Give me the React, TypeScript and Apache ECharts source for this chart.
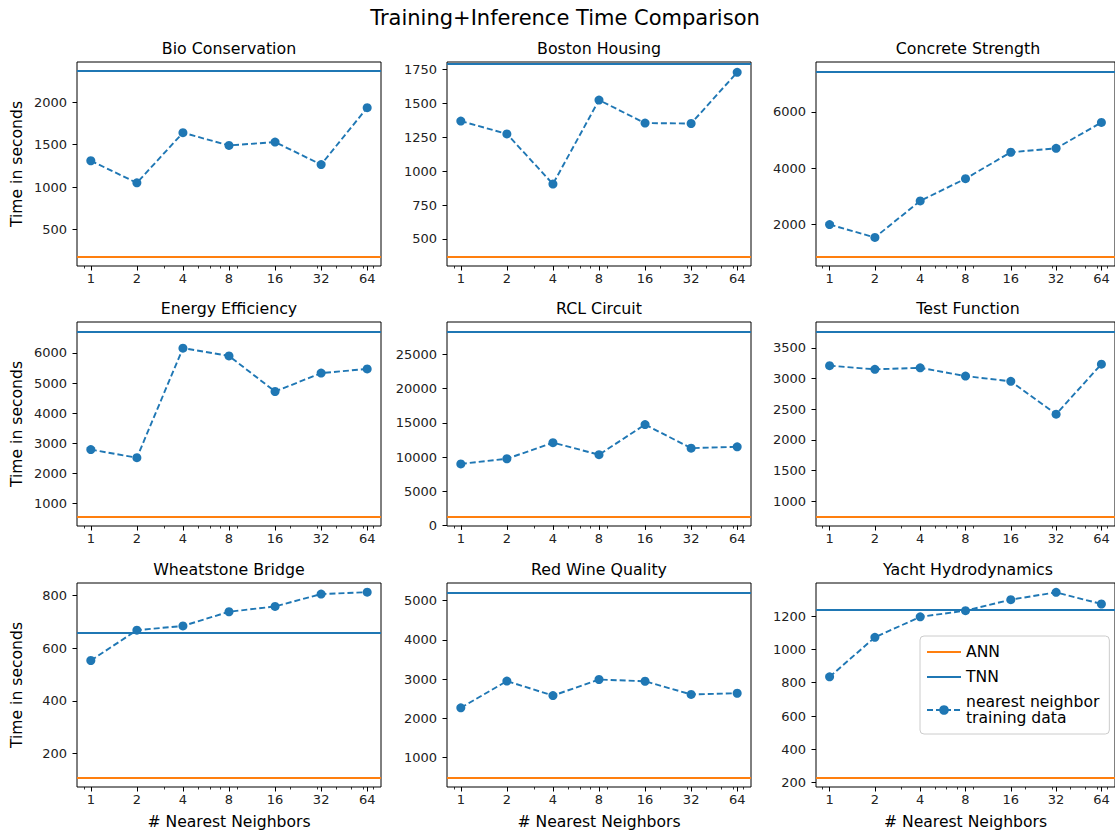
import React, { useEffect, useRef } from "react";
import * as echarts from "echarts";

// ---- data ----
const neighbors = [1, 2, 4, 8, 16, 32, 64];
const minorTickValues = [0.9, 3, 5, 6, 7, 9, 20, 30, 40, 50, 60, 70];

const suptitle = "Training+Inference Time Comparison";
const datasetNames = [
  "Bio Conservation",
  "Boston Housing",
  "Concrete Strength",
  "Energy Efficiency",
  "RCL Circuit",
  "Test Function",
  "Wheatstone Bridge",
  "Red Wine Quality",
  "Yacht Hydrodynamics",
];

const bioConservation = [1310, 1050, 1640, 1490, 1530, 1265, 1935];
const bostonHousing = [1370, 1275, 905, 1525, 1355, 1352, 1730];
const concreteStrength = [1990, 1530, 2830, 3620, 4560, 4700, 5620];
const energyEfficiency = [2790, 2520, 6160, 5900, 4720, 5330, 5470];
const rclCircuit = [9000, 9750, 12100, 10350, 14750, 11300, 11500];
const testFunction = [3210, 3150, 3175, 3040, 2955, 2420, 3235];
const wheatstoneBridge = [553, 668, 684, 738, 758, 805, 812];
const redWineQuality = [2270, 2950, 2580, 2990, 2945, 2610, 2640];
const yachtHydrodynamics = [835, 1072, 1195, 1232, 1298, 1342, 1272];

const knnSeries = [
  bioConservation,
  bostonHousing,
  concreteStrength,
  energyEfficiency,
  rclCircuit,
  testFunction,
  wheatstoneBridge,
  redWineQuality,
  yachtHydrodynamics,
];

const annTimes = [180, 370, 845, 560, 1270, 750, 108, 490, 230];
const tnnTimes = [2365, 1795, 7440, 6720, 28400, 3770, 660, 5210, 1235];

const yMins = [72, 300, 515, 252, -87, 599, 73, 254, 174];
const yMaxs = [2472, 1806, 7770, 7028, 29757, 3921, 847, 5446, 1398];

const yTicks = [
  [500, 1000, 1500, 2000],
  [500, 750, 1000, 1250, 1500, 1750],
  [2000, 4000, 6000],
  [1000, 2000, 3000, 4000, 5000, 6000],
  [0, 5000, 10000, 15000, 20000, 25000],
  [1000, 1500, 2000, 2500, 3000, 3500],
  [200, 400, 600, 800],
  [1000, 2000, 3000, 4000, 5000],
  [200, 400, 600, 800, 1000, 1200],
];

const knnName = "nearest neighbor\ntraining data";
const annName = "ANN";
const tnnName = "TNN";

// ---- layout / style ----
const C0 = "#1f77b4";
const C1 = "#ff7f0e";
const FONT = "DejaVu Sans";
const colLefts = [77, 447, 816];
const rowTops = [62, 322, 583];
const gridW = 304;
const gridH = 204;

export default function App() {
  const ref = useRef<HTMLDivElement>(null);

  useEffect(() => {
    if (!ref.current) return;
    const chart = echarts.init(ref.current, null, { renderer: "svg" });

    const lo = Math.log2(neighbors[0]);
    const hi = Math.log2(neighbors[neighbors.length - 1]);
    const pad = (hi - lo) * 0.05;
    const xMin = Math.pow(2, lo - pad);
    const xMax = Math.pow(2, hi + pad);

    const grids: any[] = [];
    const xAxes: any[] = [];
    const yAxes: any[] = [];
    const series: any[] = [];
    const graphics: any[] = [
      {
        type: "text",
        x: 565,
        y: 18,
        style: {
          text: suptitle,
          fontSize: 21,
          fontFamily: FONT,
          fill: "#000",
          align: "center",
          verticalAlign: "middle",
        },
      },
    ];

    datasetNames.forEach((name, i) => {
      const row = Math.floor(i / 3);
      const col = i % 3;
      grids.push({
        left: colLefts[col],
        top: rowTops[row],
        width: gridW,
        height: gridH,
        show: true,
        borderColor: "#000",
        borderWidth: 1,
        backgroundColor: "transparent",
        containLabel: false,
      });
      graphics.push({
        type: "text",
        x: colLefts[col] + gridW / 2,
        y: rowTops[row] - 13.5,
        style: {
          text: name,
          fontSize: 15.8,
          fontFamily: FONT,
          fill: "#000",
          align: "center",
          verticalAlign: "middle",
        },
      });
      xAxes.push({
        gridIndex: i,
        type: "log",
        logBase: 2,
        position: "bottom",
        min: xMin,
        max: xMax,
        axisLine: { show: false },
        axisTick: {
          show: true,
          customValues: neighbors,
          length: 4.5,
          lineStyle: { color: "#000", width: 1 },
        },
        axisLabel: {
          customValues: neighbors,
          fontSize: 13,
          fontFamily: FONT,
          color: "#222",
          margin: 6,
          formatter: (v: number) => String(Math.round(v)),
        },
        splitLine: { show: false },
        minorTick: { show: false },
        name: row === 2 ? "# Nearest Neighbors" : "",
        nameLocation: "middle",
        nameGap: 27,
        nameTextStyle: { fontSize: 15.6, fontFamily: FONT, color: "#000" },
      });
      xAxes.push({
        gridIndex: i,
        type: "log",
        logBase: 2,
        position: "bottom",
        min: xMin,
        max: xMax,
        axisLine: { show: false },
        axisTick: {
          show: true,
          customValues: minorTickValues,
          length: 2.5,
          lineStyle: { color: "#000", width: 0.8 },
        },
        axisLabel: { show: false },
        splitLine: { show: false },
      });
      yAxes.push({
        gridIndex: i,
        type: "value",
        min: yMins[i],
        max: yMaxs[i],
        axisLine: { show: false },
        axisTick: {
          show: true,
          customValues: yTicks[i],
          length: 4.5,
          lineStyle: { color: "#000", width: 1 },
        },
        axisLabel: {
          customValues: yTicks[i],
          fontSize: 13,
          fontFamily: FONT,
          color: "#222",
          margin: 10,
          formatter: (v: number) => String(v),
        },
        splitLine: { show: false },
        name: col === 0 ? "Time in seconds" : "",
        nameLocation: "middle",
        nameGap: 52,
        nameRotate: 90,
        nameTextStyle: { fontSize: 15.6, fontFamily: FONT, color: "#000" },
      });
      const xi = i * 2;
      series.push({
        name: annName,
        type: "line",
        xAxisIndex: xi,
        yAxisIndex: i,
        data: [],
        symbol: "none",
        itemStyle: { color: C1 },
        lineStyle: { color: C1, width: 2 },
        markLine: {
          silent: true,
          symbol: ["none", "none"],
          label: { show: false },
          lineStyle: { color: C1, width: 2, type: "solid" },
          data: [{ yAxis: annTimes[i] }],
        },
        z: 2,
      });
      series.push({
        name: tnnName,
        type: "line",
        xAxisIndex: xi,
        yAxisIndex: i,
        data: [],
        symbol: "none",
        itemStyle: { color: C0 },
        lineStyle: { color: C0, width: 2 },
        markLine: {
          silent: true,
          symbol: ["none", "none"],
          label: { show: false },
          lineStyle: { color: C0, width: 2, type: "solid" },
          data: [{ yAxis: tnnTimes[i] }],
        },
        z: 2,
      });
      series.push({
        name: knnName,
        type: "line",
        xAxisIndex: xi,
        yAxisIndex: i,
        data: neighbors.map((n, j) => [n, knnSeries[i][j]]),
        symbol: "circle",
        symbolSize: 9,
        showSymbol: true,
        itemStyle: { color: C0 },
        lineStyle: { color: C0, width: 1.9, type: [6, 3] },
        z: 3,
      });
    });

    chart.setOption({
      animation: false,
      backgroundColor: "#fff",
      textStyle: { fontFamily: FONT },
      grid: grids,
      xAxis: xAxes,
      yAxis: yAxes,
      series,
      graphic: graphics,
      legend: {
        data: [
          { name: annName, itemStyle: { opacity: 0 } },
          { name: tnnName, itemStyle: { opacity: 0 } },
          { name: knnName },
        ],
        orient: "vertical",
        left: 920,
        top: 636,
        backgroundColor: "rgba(255,255,255,0.85)",
        borderColor: "#ccc",
        borderWidth: 1,
        borderRadius: 4,
        padding: [8, 10, 8, 6],
        itemWidth: 34,
        itemHeight: 12,
        itemGap: 9,
        selectedMode: false,
        textStyle: { fontSize: 15.6, fontFamily: FONT, color: "#000" },
      },
    });

    return () => chart.dispose();
  }, []);

  return (
    <div
      ref={ref}
      style={{
        position: "absolute",
        left: 0,
        top: 0,
        width: 1115,
        height: 831,
        overflow: "hidden",
        background: "#fff",
      }}
    />
  );
}
